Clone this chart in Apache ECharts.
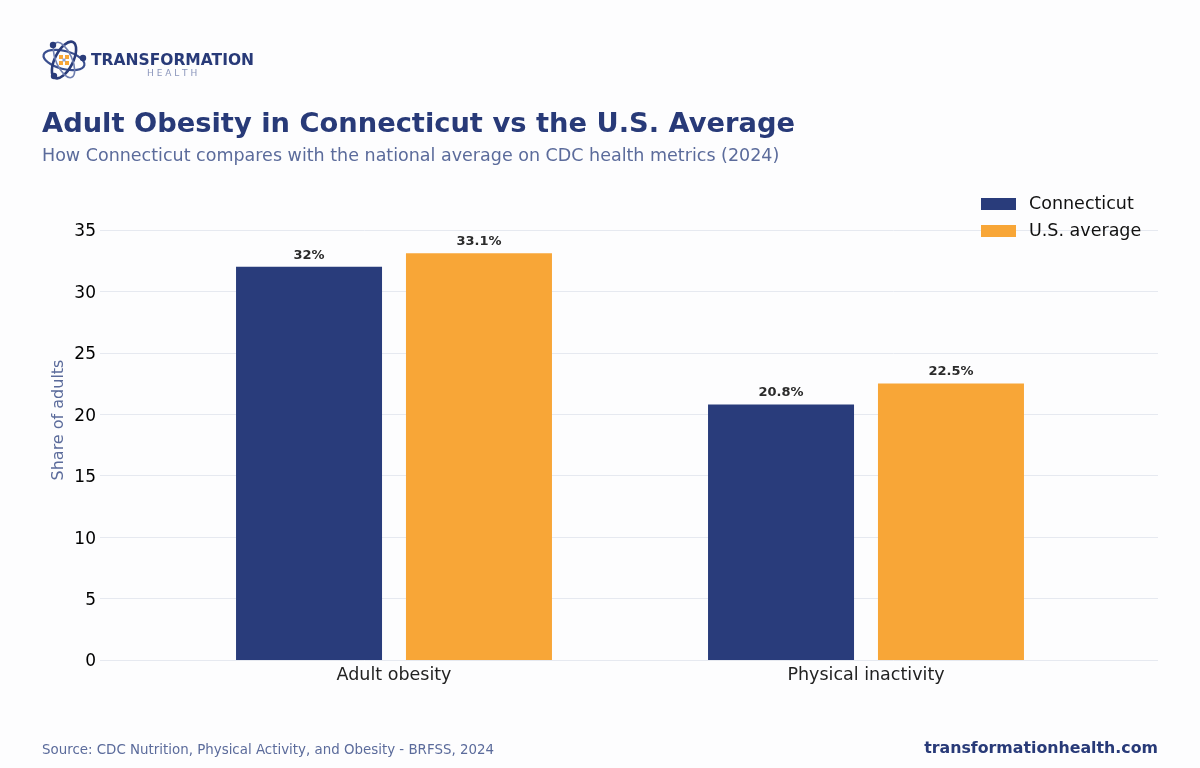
<!DOCTYPE html>
<html>
<head>
<meta charset="utf-8">
<script src="https://cdn.jsdelivr.net/npm/echarts@6/dist/echarts.min.js"></script>
<style>
html,body{margin:0;padding:0;background:#fdfdfe;}
#chart{width:1200px;height:768px;}
</style>
</head>
<body>
<div id="chart"></div>
<script>
const categories = ['Adult obesity', 'Physical inactivity'];
const seriesNames = ['Connecticut', 'U.S. average'];
const connecticut = [32, 20.8];
const usAverage = [33.1, 22.5];
const yTicks = [0, 5, 10, 15, 20, 25, 30, 35];

const NAVY = '#293c7b';
const ORANGE = '#f8a637';
const FONT = 'DejaVu Sans';

const chart = echarts.init(document.getElementById('chart'), null, {renderer: 'canvas'});

const valLabel = {
  show: true, position: 'top', distance: 5,
  fontFamily: FONT, fontSize: 13, fontWeight: 'bold', color: '#2b2b2b',
  formatter: p => p.value + '%'
};

const option = {
  backgroundColor: '#fdfdfe',
  animation: false,
  textStyle: {fontFamily: FONT},
  title: [
    {text: 'Adult Obesity in Connecticut vs the U.S. Average', left: 37, top: 106,
     textStyle: {fontFamily: FONT, fontSize: 27.3, fontWeight: 'bold', color: '#283a78'}},
    {text: 'How Connecticut compares with the national average on CDC health metrics (2024)', left: 37, top: 142,
     textStyle: {fontFamily: FONT, fontSize: 17.5, fontWeight: 'normal', color: '#5b6b9b'}},
    {text: 'Source: CDC Nutrition, Physical Activity, and Obesity - BRFSS, 2024', left: 37, top: 739,
     textStyle: {fontFamily: FONT, fontSize: 13.4, fontWeight: 'normal', color: '#5b6b9b'}},
    {text: 'transformationhealth.com', right: 37, top: 736,
     textStyle: {fontFamily: FONT, fontSize: 15.8, fontWeight: 'bold', color: '#283a78'}}
  ],
  legend: {
    data: seriesNames, orient: 'vertical', left: 976, top: 190, icon: 'rect',
    itemWidth: 35, itemHeight: 12, itemGap: 9,
    textStyle: {fontFamily: FONT, fontSize: 17.5, color: '#111', padding: [0, 0, 0, 8]}
  },
  grid: [
    {left: 158, right: 98, top: 230, bottom: 108, containLabel: false},
    {left: 100, right: 42, top: 230, bottom: 108, containLabel: false}
  ],
  xAxis: [
    {type: 'category', gridIndex: 0, data: categories,
     axisLine: {show: false}, axisTick: {show: false},
     axisLabel: {fontFamily: FONT, fontSize: 17.5, color: '#222', margin: 6}},
    {type: 'category', gridIndex: 1, data: categories, show: false}
  ],
  yAxis: [
    {type: 'value', gridIndex: 0, min: 0, max: 35, interval: 5,
     axisLabel: {show: false}, splitLine: {show: false}, axisLine: {show: false}, axisTick: {show: false}},
    {type: 'value', gridIndex: 1, min: yTicks[0], max: yTicks[yTicks.length - 1], interval: 5,
     axisLine: {show: false}, axisTick: {show: false},
     axisLabel: {fontFamily: FONT, fontSize: 17, color: '#000', margin: 4,
                 formatter: v => String(v), verticalAlign: 'top', lineHeight: 4},
     splitLine: {show: true, lineStyle: {color: '#e6e9f0', width: 1}}}
  ],
  series: [
    {name: seriesNames[0], type: 'bar', xAxisIndex: 0, yAxisIndex: 0, data: connecticut,
     barWidth: 146, barGap: '16.4%', itemStyle: {color: NAVY}, label: valLabel},
    {name: seriesNames[1], type: 'bar', xAxisIndex: 0, yAxisIndex: 0, data: usAverage,
     barWidth: 146, barGap: '16.4%', itemStyle: {color: ORANGE}, label: valLabel}
  ],
  graphic: [
    {type: 'text', x: 58.5, y: 420, rotation: Math.PI / 2,
     style: {text: 'Share of adults', fontFamily: FONT, fontSize: 16, fill: '#5b6b9b',
             align: 'center', verticalAlign: 'middle'}},
    // logo icon
    {type: 'ellipse', shape: {cx: 64, cy: 60, rx: 21, ry: 9}, rotation: -0.25, origin: [64, 60],
     style: {fill: 'none', stroke: '#3a4f8f', lineWidth: 2.2}},
    {type: 'ellipse', shape: {cx: 64, cy: 60, rx: 20, ry: 9}, rotation: 1.1, origin: [64, 60],
     style: {fill: 'none', stroke: '#2a3c7a', lineWidth: 2.6}},
    {type: 'ellipse', shape: {cx: 64, cy: 60, rx: 19, ry: 8}, rotation: -1.15, origin: [64, 60],
     style: {fill: 'none', stroke: '#6f7fb0', lineWidth: 1.6}},
    {type: 'circle', shape: {cx: 53, cy: 45, r: 3.2}, style: {fill: '#2a3c7a'}},
    {type: 'circle', shape: {cx: 83, cy: 58, r: 3.2}, style: {fill: '#2a3c7a'}},
    {type: 'circle', shape: {cx: 54, cy: 76, r: 3.2}, style: {fill: '#2a3c7a'}},
    {type: 'rect', shape: {x: 59, y: 55, width: 4, height: 4}, style: {fill: ORANGE}},
    {type: 'rect', shape: {x: 65, y: 55, width: 4, height: 4}, style: {fill: ORANGE}},
    {type: 'rect', shape: {x: 59, y: 61, width: 4, height: 4}, style: {fill: ORANGE}},
    {type: 'rect', shape: {x: 65, y: 61, width: 4, height: 4}, style: {fill: ORANGE}},
    {type: 'rect', shape: {x: 62.5, y: 58.5, width: 3, height: 3}, style: {fill: '#8fa0d0'}},
    {type: 'text', left: 91, top: 53,
     style: {text: 'TRANSFORMATION', fontFamily: FONT, fontSize: 15.5, fontWeight: 900, fill: '#283a78'}},
    {type: 'text', left: 147, top: 69,
     style: {text: 'H E A L T H', fontFamily: FONT, fontSize: 9, fill: '#8a95bb'}}
  ]
};
chart.setOption(option);
</script>
</body>
</html>
